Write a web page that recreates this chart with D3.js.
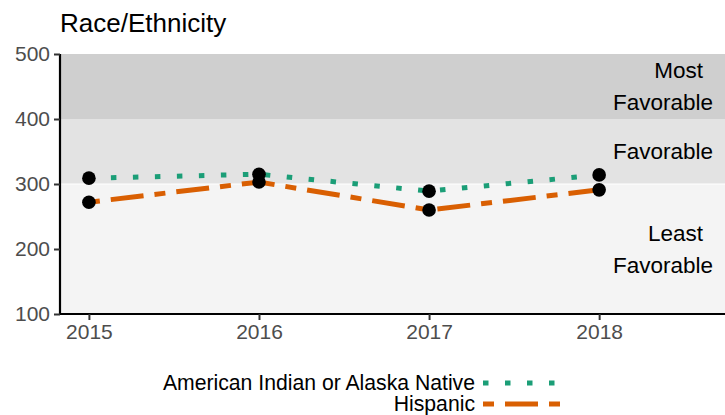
<!DOCTYPE html>
<html><head><meta charset="utf-8">
<script src="https://cdn.jsdelivr.net/npm/d3@7"></script>
<style>body{margin:0;background:#fff}svg{display:block;font-family:"Liberation Sans",Arial,sans-serif}</style>
</head><body><svg id="c" width="725" height="415"></svg>
<script>
const years = [2015, 2016, 2017, 2018];
const seriesNames = ["American Indian or Alaska Native", "Hispanic"];
const aianValues = [309, 315, 289, 314];
const hispanicValues = [272, 303, 260, 291];
const yTicks = [100, 200, 300, 400, 500];
const bands = [
  {lo: 100, hi: 300, fill: "#f4f4f4", label: ["Least", "Favorable"]},
  {lo: 300, hi: 400, fill: "#e3e3e3", label: ["Favorable"]},
  {lo: 400, hi: 500, fill: "#cfcfcf", label: ["Most", "Favorable"]}
];
const colors = ["#1b9e77", "#d95f02"];
const dashes = ["5.5,16.5", "11,11,33,11"];

const svg = d3.select("#c");
const pLeft = 60, pRight = 725, pTop = 54, pBottom = 314;
const x = d3.scaleLinear().domain([2014.83, 2018.74]).range([pLeft, pRight]);
const y = d3.scaleLinear().domain([100, 500]).range([pBottom, pTop]);

svg.append("text").attr("x", 60).attr("y", 32).attr("font-size", 26).attr("fill", "#000").text("Race/Ethnicity");

svg.selectAll("rect.band").data(bands).enter().append("rect")
  .attr("x", pLeft).attr("width", pRight - pLeft)
  .attr("y", d => y(d.hi)).attr("height", d => y(d.lo) - y(d.hi))
  .attr("fill", d => d.fill);
svg.append("line").attr("x1", pLeft).attr("x2", pRight).attr("y1", y(300)).attr("y2", y(300)).attr("stroke", "#fff").attr("stroke-width", 1);

// band labels
bands.forEach((b, i) => {
  const n = b.label.length;
  const mid = (y(b.lo) + y(b.hi)) / 2;
  b.label.forEach((t, j) => {
    const endX = (n > 1 && j === 0) ? 703 : 713;
    svg.append("text").attr("x", endX).attr("text-anchor", "end")
      .attr("y", mid + (j - (n - 1) / 2) * 32 + 7.5).attr("font-size", 22.5).attr("fill", "#000").text(t);
  });
});

const series = [aianValues, hispanicValues];
const line = d3.line().x((d, i) => x(years[i])).y(d => y(d));
series.forEach((s, k) => {
  svg.append("path").datum(s).attr("d", line).attr("fill", "none")
    .attr("stroke", colors[k]).attr("stroke-width", 5).attr("stroke-dasharray", dashes[k]);
});
series.forEach(s => {
  svg.selectAll(null).data(s).enter().append("circle")
    .attr("cx", (d, i) => x(years[i])).attr("cy", d => y(d)).attr("r", 6.8).attr("fill", "#000");
});

// axes
const yAxis = svg.append("g").attr("transform", `translate(${pLeft},0)`)
  .call(d3.axisLeft(y).tickValues(yTicks).tickSize(6).tickPadding(4));
const xAxis = svg.append("g").attr("transform", `translate(0,${pBottom})`)
  .call(d3.axisBottom(x).tickValues(years).tickFormat(d3.format("d")).tickSize(6).tickPadding(4));
[yAxis, xAxis].forEach(g => {
  g.select(".domain").attr("stroke", "#000").attr("stroke-width", 2.2);
  g.selectAll(".tick line").attr("stroke", "#333").attr("stroke-width", 2);
  g.selectAll(".tick text").attr("fill", "#4d4d4d").attr("font-size", 21).attr("font-family", '"Liberation Sans",Arial,sans-serif');
});
yAxis.select(".domain").attr("d", `M0,${pTop}V${pBottom}`);
xAxis.select(".domain").attr("d", `M${pLeft},0H${pRight}`);

// legend
seriesNames.forEach((n, k) => {
  const ly = 383 + k * 21;
  svg.append("text").attr("x", 475).attr("y", ly + 7).attr("text-anchor", "end").attr("font-size", 21.2).attr("fill", "#000").text(n);
  svg.append("line").attr("x1", 483).attr("x2", 560).attr("y1", ly).attr("y2", ly)
    .attr("stroke", colors[k]).attr("stroke-width", 5).attr("stroke-dasharray", dashes[k]);
});
</script></body></html>
